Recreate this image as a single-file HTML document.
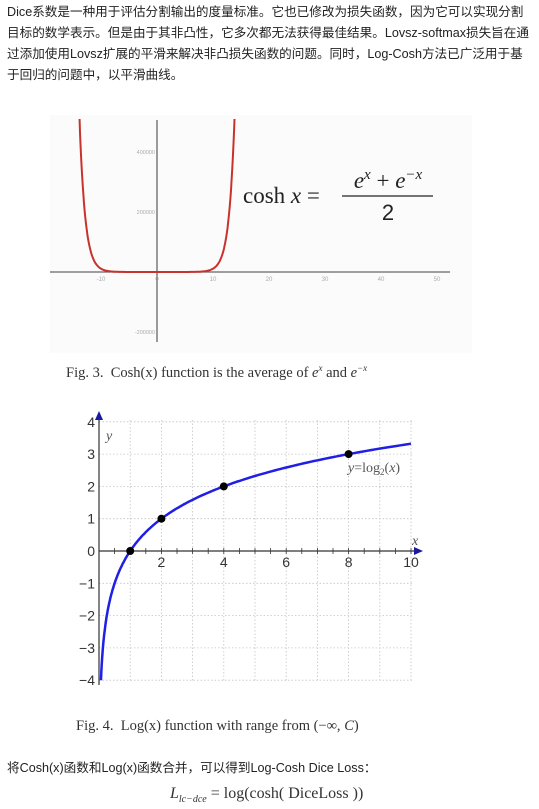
<!DOCTYPE html>
<html><head><meta charset="utf-8"><style>
body{margin:0;width:539px;height:809px;background:#fff;overflow:hidden;position:relative;font-family:"Liberation Sans","Noto Sans CJK SC",sans-serif;}
.p{position:absolute;left:7px;width:532px;font-size:12.6px;line-height:21px;color:#222;white-space:nowrap}
.cap{position:absolute;font-family:"Liberation Serif",serif;font-size:14.5px;color:#333;white-space:nowrap}
svg{position:absolute;left:0;top:0}
</style></head><body>
<div class="p" style="top:2px">Dice系数是一种用于评估分割输出的度量标准。它也已修改为损失函数，因为它可以实现分割<br>目标的数学表示。但是由于其非凸性，它多次都无法获得最佳结果。Lovsz-softmax损失旨在通<br>过添加使用Lovsz扩展的平滑来解决非凸损失函数的问题。同时，Log-Cosh方法已广泛用于基<br>于回归的问题中，以平滑曲线。</div>

<svg width="539" height="809">
<defs><clipPath id="cc"><rect x="50" y="119" width="422" height="234"/></clipPath></defs>
<g id="cosh"></g>
<g id="log"></g>
</svg>

<div class="cap" style="left:66px;top:363px">Fig. 3.&nbsp; Cosh(x) function is the average of <i>e<sup style="font-size:9px">x</sup></i> and <i>e<sup style="font-size:9px">−x</sup></i></div>
<div class="cap" style="left:76px;top:718px">Fig. 4.&nbsp; Log(x) function with range from (−∞, <i>C</i>)</div>
<div class="p" style="top:758px">将Cosh(x)函数和Log(x)函数合并，可以得到Log-Cosh Dice Loss：</div>
<div class="cap" style="left:170px;top:785px;font-size:16px"><i>L</i><sub style="font-size:10px"><i>lc−dce</i></sub> = log(cosh( DiceLoss ))</div>

<script>
const NS="http://www.w3.org/2000/svg";
function mk(p,t,a){const e=document.createElementNS(NS,t);for(const k in a)e.setAttribute(k,a[k]);p.appendChild(e);return e;}
// ---- cosh chart ----
const coshXTicks=[-10,0,10,20,30,40,50];
const coshYTicks=[400000,200000,-200000];
const coshRange=[-13.95,13.85];
const C=document.getElementById('cosh');
const cx=v=>157+v*5.6, cy=v=>272-v*60/200000;
mk(C,'rect',{x:50,y:115,width:422,height:238,fill:'#fbfbfb'});
mk(C,'line',{x1:50,y1:272,x2:450,y2:272,stroke:'#666','stroke-width':1.3});
mk(C,'line',{x1:157,y1:120,x2:157,y2:342,stroke:'#666','stroke-width':1.3});
coshXTicks.forEach(t=>{const e=mk(C,'text',{x:cx(t),y:281,'font-size':6,fill:'#aaa','text-anchor':'middle'});e.textContent=t;

});
coshYTicks.forEach(t=>{const e=mk(C,'text',{x:155,y:cy(t)+2,'font-size':5.5,fill:'#aaa','text-anchor':'end'});e.textContent=t;

});
let d='';for(let i=0;i<=400;i++){const x=coshRange[0]+(coshRange[1]-coshRange[0])*i/400;const y=Math.cosh(x);d+=(i?'L':'M')+cx(x).toFixed(1)+' '+cy(y).toFixed(1);}
const cl=mk(C,'path',{d:d,fill:'none',stroke:'#c8322d','stroke-width':2,'clip-path':'url(#cc)'});


const ft=mk(C,'text',{x:243,y:203,'font-size':23,'font-family':'Liberation Serif,serif',fill:'#222'});ft.innerHTML='cosh <tspan font-style="italic">x</tspan> =';
mk(C,'line',{x1:342,y1:196,x2:433,y2:196,stroke:'#222','stroke-width':1.3});
const n=mk(C,'text',{x:388,y:188,'font-size':23,'font-family':'Liberation Serif,serif','text-anchor':'middle',fill:'#222'});n.innerHTML='<tspan font-style="italic">e</tspan><tspan font-size="15" dy="-9" font-style="italic">x</tspan><tspan dy="9"> + </tspan><tspan font-style="italic">e</tspan><tspan font-size="15" dy="-9" font-style="italic">−x</tspan>';
const dn=mk(C,'text',{x:388,y:220,'font-size':22,'font-family':'Liberation Sans,sans-serif','text-anchor':'middle',fill:'#222'});dn.textContent='2';

// ---- log chart ----
const logXTicks=[2,4,6,8,10];
const logYTicks=[4,3,2,1,0,-1,-2,-3,-4];
const logPoints=[1,2,4,8];
const G=document.getElementById('log');
const lx=v=>99+v*31.2, ly=v=>551-v*32.3;
for(let i=1;i<=10;i++)mk(G,'line',{x1:lx(i),y1:420,x2:lx(i),y2:682,stroke:'#c4c4c4','stroke-dasharray':'1.5 2','stroke-width':0.8});
logYTicks.forEach(t=>{if(t)mk(G,'line',{x1:99,y1:ly(t),x2:412,y2:ly(t),stroke:'#c4c4c4','stroke-dasharray':'1.5 2','stroke-width':0.8});});
mk(G,'line',{x1:99,y1:685,x2:99,y2:416,stroke:'#333','stroke-width':1.2});
mk(G,'polygon',{points:'95,420 103,420 99,411',fill:'#1a1aa0'});
mk(G,'line',{x1:99,y1:551,x2:414,y2:551,stroke:'#333','stroke-width':1.2});
mk(G,'polygon',{points:'414,547 414,555 423,551',fill:'#1a1aa0'});
for(let i=1;i<=20;i++)mk(G,'line',{x1:lx(i/2),y1:548,x2:lx(i/2),y2:554,stroke:'#333','stroke-width':0.8});
logXTicks.forEach(t=>{const e=mk(G,'text',{x:lx(t),y:567,'font-size':14,fill:'#333','text-anchor':'middle'});e.textContent=t;

});
logYTicks.forEach(t=>{const e=mk(G,'text',{x:95,y:ly(t)+5,'font-size':14,fill:'#333','text-anchor':'end'});e.textContent=t<0?'−'+(-t):t;

});
let ld='';for(let i=0;i<=300;i++){const x=0.0625*Math.pow(10/0.0625,i/300);ld+=(i?'L':'M')+lx(x).toFixed(1)+' '+ly(Math.log2(x)).toFixed(1);}
const lc=mk(G,'path',{d:ld,fill:'none',stroke:'#1f1fe6','stroke-width':2.5});


logPoints.forEach(p=>{const c=mk(G,'circle',{cx:lx(p),cy:ly(Math.log2(p)),r:4,fill:'#000'});

});
const t1=mk(G,'text',{x:106,y:440,'font-size':14,'font-style':'italic','font-family':'Liberation Serif,serif',fill:'#555'});t1.textContent='y';
const t2=mk(G,'text',{x:412,y:545,'font-size':14,'font-style':'italic','font-family':'Liberation Serif,serif',fill:'#555'});t2.textContent='x';
const t3=mk(G,'text',{x:348,y:472,'font-size':14,'font-family':'Liberation Serif,serif',fill:'#555'});t3.innerHTML='<tspan font-style="italic">y</tspan>=log<tspan font-size="9" dy="3">2</tspan><tspan dy="-3">(</tspan><tspan font-style="italic">x</tspan>)';
</script>
</body></html>
